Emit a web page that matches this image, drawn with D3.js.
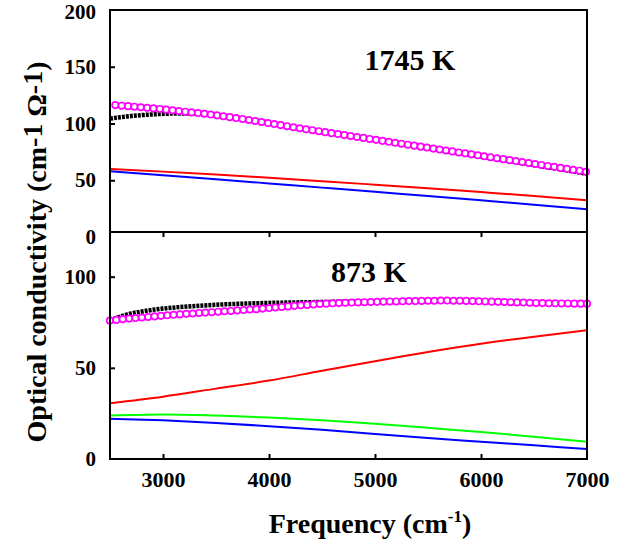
<!DOCTYPE html>
<html>
<head>
<meta charset="utf-8">
<script src="https://cdn.jsdelivr.net/npm/d3@7"></script>
<style>
  body { margin: 0; background: #fff; }
  text { font-family: "Liberation Serif", "Times New Roman", serif; font-weight: bold; fill: #000; }
</style>
</head>
<body>
<div id="div"></div>
<script>
// ---- data ----
// 1745 K panel
var hotLineFreq = [2500, 3000, 3500, 4000, 4500, 5000, 5500, 6000, 6500, 7000];
var hotRed  = [60.0, 57.6, 55.0, 52.2, 49.2, 46.1, 43.0, 39.6, 36.1, 32.4];
var hotBlue = [58.0, 54.5, 50.9, 47.2, 43.5, 39.8, 36.2, 32.4, 28.5, 24.4];

var hotBlackFreq = [2500, 2600, 2700, 2800, 2900, 3000, 3100, 3200, 3300, 3400, 3500, 3700, 4000, 4500, 5000, 5500, 6000, 6500, 7000];
var hotBlack = [104.3, 105.6, 106.6, 107.4, 108.0, 108.5, 108.8, 108.9, 108.7, 108.2, 107.3, 104.6, 100.0, 92.5, 85.3, 78.0, 70.8, 63.5, 55.8];

// open circles, one every 60 cm-1 from 2550
var hotCircleStart = 2550;
var hotCircles = [
  116.2, 115.7, 115.3, 114.8, 114.3, 113.8, 113.3, 112.8, 112.2, 111.6,
  111.0, 110.4, 109.8, 109.2, 108.6, 107.9, 107.2, 106.4, 105.6, 104.8,
  104.0, 103.1, 102.2, 101.3, 100.4, 99.5, 98.6, 97.6, 96.7, 95.8,
  94.9, 94.1, 93.2, 92.4, 91.5, 90.7, 89.8, 89.0, 88.1, 87.3,
  86.4, 85.6, 84.7, 83.9, 83.0, 82.2, 81.3, 80.5, 79.6, 78.8,
  77.9, 77.1, 76.2, 75.4, 74.5, 73.7, 72.8, 72.0, 71.1, 70.3,
  69.4, 68.6, 67.7, 66.9, 66.0, 65.2, 64.3, 63.5, 62.6, 61.8,
  60.9, 60.1, 59.2, 58.4, 57.5
];

// 873 K panel
var coldLineFreq = [2500, 3000, 3500, 4000, 4500, 5000, 5500, 6000, 6500, 7000];
var coldRed   = [30.6, 34.2, 38.6, 43.0, 48.4, 53.6, 58.7, 63.2, 67.1, 70.6];
var coldGreen = [23.8, 24.4, 23.8, 22.8, 21.3, 19.3, 17.1, 14.8, 12.2, 9.5];
var coldBlue  = [22.1, 21.2, 19.8, 18.0, 16.0, 13.7, 11.5, 9.5, 7.5, 5.5];

var coldBlackFreq = [2500, 2600, 2700, 2800, 2900, 3000, 3200, 3500, 4000, 4500, 5000, 5500, 6000, 6500, 7000];
var coldBlack = [76.0, 78.2, 79.8, 80.9, 81.8, 82.5, 83.5, 84.6, 85.6, 86.1, 86.5, 86.8, 86.6, 85.9, 85.3];

var coldCircleStart = 2500;
var coldCircles = [
  75.9, 76.3, 76.7, 77.0, 77.3, 77.6, 77.9, 78.2, 78.5, 78.8,
  79.1, 79.3, 79.6, 79.8, 80.1, 80.3, 80.5, 80.8, 81.0, 81.2,
  81.5, 81.7, 82.0, 82.2, 82.5, 82.8, 83.1, 83.4, 83.7, 84.0,
  84.3, 84.5, 84.8, 85.0, 85.2, 85.4, 85.5, 85.7, 85.8, 85.9,
  86.0, 86.1, 86.2, 86.3, 86.4, 86.4, 86.5, 86.6, 86.6, 86.7,
  86.8, 86.8, 86.9, 86.9, 86.8, 86.8, 86.7, 86.6, 86.5, 86.4,
  86.3, 86.2, 86.1, 86.0, 85.9, 85.8, 85.7, 85.6, 85.5, 85.4,
  85.4, 85.3, 85.3, 85.2, 85.2, 85.2
];
var circleStep = 60;

var xTicks = [3000, 4000, 5000, 6000, 7000];
var hotTicks = [0, 50, 100, 150, 200];
var coldTicks = [0, 50, 100];

// ---- layout ----
var width = 630, height = 545;
var left = 110, right = 587;
var hotTop = 10, mid = 232, bottom = 459;

var svg = d3.select('#div').append('svg')
    .attr('width', width)
    .attr('height', height);

var x = d3.scaleLinear().domain([2500, 7000]).range([left, right]);
var yHot = d3.scaleLinear().domain([0, 200]).range([237, hotTop]);
var yCold = d3.scaleLinear().domain([0, 124.5]).range([bottom, mid]);

var defs = svg.append('defs');
defs.append('clipPath').attr('id', 'clipHot')
    .append('rect').attr('x', left).attr('y', hotTop).attr('width', right - left + 4).attr('height', mid - hotTop);
defs.append('clipPath').attr('id', 'clipCold')
    .append('rect').attr('x', left - 4).attr('y', mid).attr('width', right - left + 8).attr('height', bottom - mid);

function toPoints(freq, vals) {
    return vals.map(function (v, i) { return [freq[i], v]; });
}
function circlePoints(start, vals) {
    return vals.map(function (v, i) { return [start + i * circleStep, v]; });
}

function drawPanel(y, clipId, lines, black, circles) {
    var g = svg.append('g').attr('clip-path', 'url(#' + clipId + ')');
    var line = d3.line()
        .x(function (d) { return x(d[0]); })
        .y(function (d) { return y(d[1]); })
        .curve(d3.curveMonotoneX);

    lines.forEach(function (l) {
        g.append('path')
            .attr('d', line(l.data))
            .attr('fill', 'none')
            .attr('stroke', l.color)
            .attr('stroke-width', 2);
    });

    g.append('path')
        .attr('d', line(black))
        .attr('fill', 'none')
        .attr('stroke', '#000')
        .attr('stroke-width', 4.5)
        .attr('stroke-dasharray', '3,1');

    g.selectAll('circle')
        .data(circles)
        .enter()
        .append('circle')
        .attr('cx', function (d) { return x(d[0]); })
        .attr('cy', function (d) { return y(d[1]); })
        .attr('r', 3.2)
        .attr('fill', '#fff')
        .attr('stroke', '#ff00ff')
        .attr('stroke-width', 1.7);
}

drawPanel(yHot, 'clipHot', [
    { data: toPoints(hotLineFreq, hotRed), color: '#ff0000' },
    { data: toPoints(hotLineFreq, hotBlue), color: '#0000ff' }
], toPoints(hotBlackFreq, hotBlack), circlePoints(hotCircleStart, hotCircles));

drawPanel(yCold, 'clipCold', [
    { data: toPoints(coldLineFreq, coldRed), color: '#ff0000' },
    { data: toPoints(coldLineFreq, coldGreen), color: '#00ff00' },
    { data: toPoints(coldLineFreq, coldBlue), color: '#0000ff' }
], toPoints(coldBlackFreq, coldBlack), circlePoints(coldCircleStart, coldCircles));

// ---- axes ----
function styleAxis(sel, fontSize) {
    sel.select('.domain').remove();
    sel.selectAll('line').attr('stroke', '#000').attr('stroke-width', 2);
    sel.selectAll('text')
        .attr('fill', '#000')
        .style('font-family', '"Liberation Serif", "Times New Roman", serif')
        .style('font-weight', 'bold')
        .style('font-size', fontSize + 'px');
}

var hotAxis = svg.append('g')
    .attr('transform', 'translate(' + left + ',0)')
    .call(d3.axisLeft(yHot).tickValues(hotTicks).tickSizeInner(-5).tickSizeOuter(0).tickPadding(14));
styleAxis(hotAxis, 21);
hotAxis.selectAll('.tick').filter(function (d) { return d === 0 || d === 200; }).select('line').remove();
hotAxis.selectAll('.tick').filter(function (d) { return d === 200; }).select('text').attr('dy', '0.4em');

var coldAxis = svg.append('g')
    .attr('transform', 'translate(' + left + ',0)')
    .call(d3.axisLeft(yCold).tickValues(coldTicks).tickSizeInner(-5).tickSizeOuter(0).tickPadding(14));
styleAxis(coldAxis, 21);
coldAxis.selectAll('.tick').filter(function (d) { return d === 0; }).select('line').remove();

var xAxis = svg.append('g')
    .attr('transform', 'translate(0,' + bottom + ')')
    .call(d3.axisBottom(x).tickValues(xTicks).tickFormat(d3.format('d'))
        .tickSizeInner(-5).tickSizeOuter(0).tickPadding(12));
styleAxis(xAxis, 22);
xAxis.selectAll('.tick').filter(function (d) { return d === 7000; }).select('line').remove();

var midAxis = svg.append('g')
    .attr('transform', 'translate(0,' + mid + ')')
    .call(d3.axisTop(x).tickValues(xTicks.slice(0, 4)).tickSizeInner(-5).tickSizeOuter(0).tickFormat(''));
styleAxis(midAxis, 22);

// frames
[[hotTop, mid], [mid, bottom]].forEach(function (p) {
    svg.append('rect')
        .attr('x', left)
        .attr('y', p[0])
        .attr('width', right - left)
        .attr('height', p[1] - p[0])
        .attr('fill', 'none')
        .attr('stroke', '#000')
        .attr('stroke-width', 2);
});

// ---- titles ----
svg.append('text')
    .attr('x', 410).attr('y', 70)
    .attr('text-anchor', 'middle')
    .style('font-size', '30px')
    .text('1745 K');

svg.append('text')
    .attr('x', 369).attr('y', 282)
    .attr('text-anchor', 'middle')
    .style('font-size', '30px')
    .text('873 K');

var xt = svg.append('text')
    .attr('x', 370).attr('y', 533)
    .attr('text-anchor', 'middle')
    .style('font-size', '28px');
xt.append('tspan').text('Frequency (cm');
xt.append('tspan').attr('dy', -11).style('font-size', '17px').text('-1');
xt.append('tspan').attr('dy', 11).text(')');

var yt = svg.append('text')
    .attr('transform', 'translate(46,252) rotate(-90)')
    .attr('text-anchor', 'middle')
    .style('font-size', '28px');
yt.append('tspan').text('Optical conductivity  (cm');
yt.append('tspan').attr('dy', -4).text('-1');
yt.append('tspan').attr('dy', 4).text(' \u03A9');
yt.append('tspan').attr('dy', -4).text('-1');
yt.append('tspan').attr('dy', 4).text(')');
</script>
</body>
</html>
